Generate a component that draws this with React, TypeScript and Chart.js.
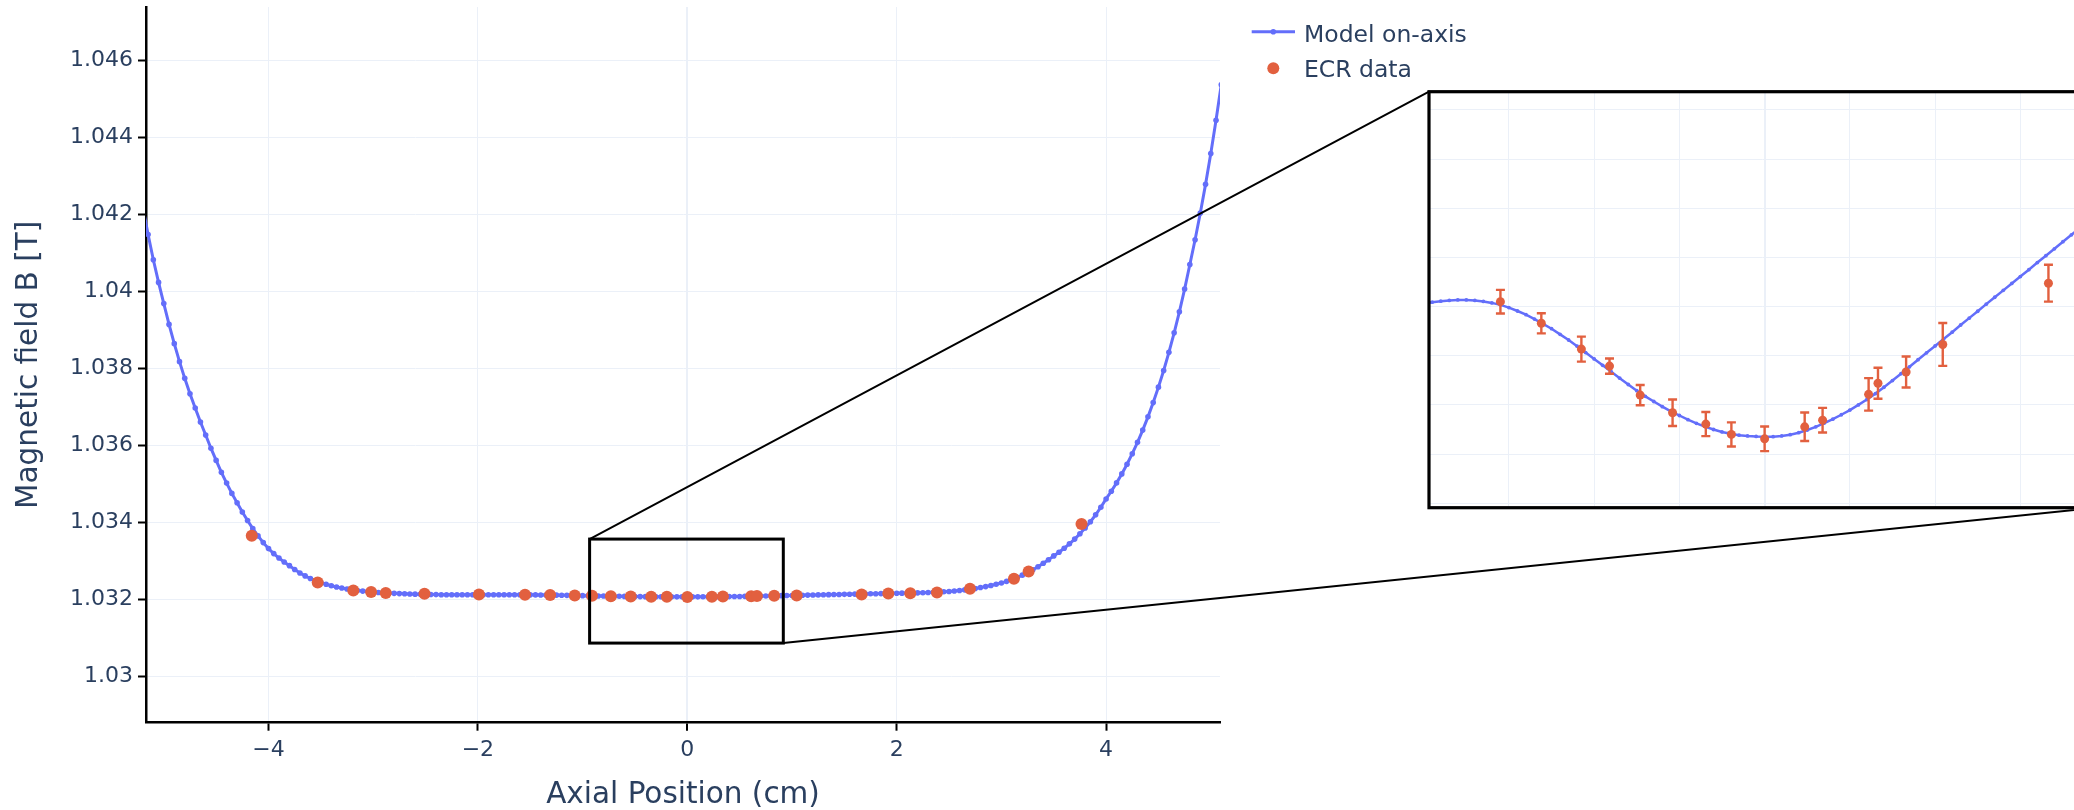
import React, { useEffect, useRef } from 'react';
import { Chart, registerables } from 'chart.js';

Chart.register(...registerables);

// ---------------- data ----------------
const modelX = [
  -5.2, -5.15, -5.1, -5.05, -5, -4.95, -4.9, -4.85, -4.8, -4.75,
  -4.7, -4.65, -4.6, -4.55, -4.5, -4.45, -4.4, -4.35, -4.3, -4.25,
  -4.2, -4.15, -4.1, -4.05, -4, -3.95, -3.9, -3.85, -3.8, -3.75,
  -3.7, -3.65, -3.6, -3.55, -3.5, -3.45, -3.4, -3.35, -3.3, -3.25,
  -3.2, -3.15, -3.1, -3.05, -3, -2.95, -2.9, -2.85, -2.8, -2.75,
  -2.7, -2.65, -2.6, -2.55, -2.5, -2.45, -2.4, -2.35, -2.3, -2.25,
  -2.2, -2.15, -2.1, -2.05, -2, -1.95, -1.9, -1.85, -1.8, -1.75,
  -1.7, -1.65, -1.6, -1.55, -1.5, -1.45, -1.4, -1.35, -1.3, -1.25,
  -1.2, -1.15, -1.1, -1.05, -1, -0.95, -0.9, -0.85, -0.8, -0.75,
  -0.7, -0.65, -0.6, -0.55, -0.5, -0.45, -0.4, -0.35, -0.3, -0.25,
  -0.2, -0.15, -0.1, -0.05, 0, 0.05, 0.1, 0.15, 0.2, 0.25,
  0.3, 0.35, 0.4, 0.45, 0.5, 0.55, 0.6, 0.65, 0.7, 0.75,
  0.8, 0.85, 0.9, 0.95, 1, 1.05, 1.1, 1.15, 1.2, 1.25,
  1.3, 1.35, 1.4, 1.45, 1.5, 1.55, 1.6, 1.65, 1.7, 1.75,
  1.8, 1.85, 1.9, 1.95, 2, 2.05, 2.1, 2.15, 2.2, 2.25,
  2.3, 2.35, 2.4, 2.45, 2.5, 2.55, 2.6, 2.65, 2.7, 2.75,
  2.8, 2.85, 2.9, 2.95, 3, 3.05, 3.1, 3.15, 3.2, 3.25,
  3.3, 3.35, 3.4, 3.45, 3.5, 3.55, 3.6, 3.65, 3.7, 3.75,
  3.8, 3.85, 3.9, 3.95, 4, 4.05, 4.1, 4.15, 4.2, 4.25,
  4.3, 4.35, 4.4, 4.45, 4.5, 4.55, 4.6, 4.65, 4.7, 4.75,
  4.8, 4.85, 4.9, 4.95, 5, 5.05, 5.1, 5.15, 5.2,
];

const modelB = [
  1.04218, 1.041475, 1.04082, 1.04023, 1.03968, 1.03914, 1.03864, 1.038173, 1.03774, 1.037341,
  1.03697, 1.036606, 1.03627, 1.035926, 1.03561, 1.035301, 1.03502, 1.034753, 1.03451, 1.034268,
  1.03405, 1.033838, 1.03365, 1.033475, 1.03332, 1.03319, 1.033074, 1.03297, 1.032877, 1.032776,
  1.032688, 1.032611, 1.032544, 1.032486, 1.032436, 1.032393, 1.032356, 1.032324, 1.032296, 1.032272,
  1.032252, 1.032233, 1.032217, 1.032203, 1.032191, 1.032181, 1.032173, 1.032165, 1.032158, 1.032152,
  1.032146, 1.032141, 1.032137, 1.032133, 1.03213, 1.032127, 1.032125, 1.032123, 1.032122, 1.032121,
  1.03212, 1.03212, 1.03212, 1.0321205, 1.0321213, 1.0321218, 1.0321222, 1.0321225, 1.0321227, 1.0321227,
  1.0321225, 1.0321221, 1.0321215, 1.0321207, 1.0321196, 1.0321182, 1.0321167, 1.0321149, 1.032113, 1.032111,
  1.0321087, 1.0321064, 1.0321039, 1.0321013, 1.0320987, 1.0320961, 1.0320935, 1.0320909, 1.0320883, 1.0320858,
  1.0320835, 1.0320814, 1.0320793, 1.0320774, 1.0320757, 1.032074, 1.0320725, 1.0320712, 1.03207, 1.032069,
  1.0320683, 1.0320677, 1.0320674, 1.0320672, 1.0320671, 1.0320671, 1.0320674, 1.0320679, 1.0320687, 1.0320698,
  1.0320711, 1.0320726, 1.0320742, 1.032076, 1.0320779, 1.03208, 1.0320822, 1.0320846, 1.0320872, 1.0320899,
  1.0320927, 1.0320955, 1.0320984, 1.0321012, 1.032104, 1.0321068, 1.0321096, 1.0321125, 1.0321153, 1.0321181,
  1.032121, 1.0321238, 1.0321266, 1.0321294, 1.0321322, 1.032135, 1.0321379, 1.0321407, 1.0321435, 1.0321464,
  1.0321492, 1.032152, 1.0321548, 1.0321576, 1.0321602, 1.0321628, 1.0321655, 1.0321684, 1.0321715, 1.0321752,
  1.0321795, 1.0321845, 1.0321905, 1.0321978, 1.0322068, 1.0322178, 1.032231, 1.032247, 1.032266, 1.0322856,
  1.032308, 1.0323328, 1.032361, 1.0323924, 1.032428, 1.0324692, 1.032516, 1.0325693, 1.03263, 1.0326957,
  1.03277, 1.03285, 1.03294, 1.03303, 1.03313, 1.0332254, 1.03333, 1.0334432, 1.033567, 1.033704,
  1.033854, 1.0340177, 1.034197, 1.0343937, 1.034609, 1.0348094, 1.035026, 1.035259, 1.035511, 1.0357835,
  1.036078, 1.0363962, 1.03674, 1.0371106, 1.037511, 1.0379451, 1.038414, 1.0389202, 1.039467, 1.0400576,
  1.040696, 1.0413388, 1.04203, 1.0427754, 1.043577, 1.0444381, 1.045364, 1.0463596, 1.04743,
];

const ecrX = [
  -4.16, -3.53, -3.19, -3.02, -2.88, -2.51, -1.99,
  -1.55, -1.31, -1.075, -0.91, -0.73, -0.54, -0.345, -0.195, 0.0, 0.235, 0.34, 0.61, 0.665, 0.83, 1.045, 1.665,
  1.92, 2.13, 2.385, 2.7, 3.12, 3.26, 3.765,
];
const ecrB = [
  1.033652, 1.03244, 1.032232, 1.03219, 1.032165, 1.032145, 1.03213,
  1.032122, 1.0321132, 1.0321027, 1.0320958, 1.032084, 1.0320768, 1.0320722, 1.032068, 1.0320662,
  1.0320711, 1.0320738, 1.0320843, 1.0320888, 1.0320934, 1.0321046, 1.0321295,
  1.032152, 1.03216, 1.03218, 1.032277, 1.032536, 1.032726, 1.03396,
];
const ecrErr = [
  5e-6, 5e-6, 5e-6, 5e-6, 5e-6, 5e-6, 5e-6,
  4.8e-6, 4.1e-6, 5.1e-6, 3.1e-6, 4.1e-6, 5.4e-6, 4.9e-6, 4.9e-6, 5.0e-6,
  5.8e-6, 5.0e-6, 6.6e-6, 6.3e-6, 6.3e-6, 8.7e-6, 7.5e-6,
  7e-6, 7e-6, 7e-6, 7e-6, 7e-6, 7e-6, 7e-6,
];

const seriesNames = ['Model on-axis', 'ECR data'];
const xAxisTitle = 'Axial Position (cm)';
const yAxisTitle = 'Magnetic field B [T]';

const xTicksMain = [-4, -2, 0, 2, 4];
const yTicksMain = [1.03, 1.032, 1.034, 1.036, 1.038, 1.04, 1.042, 1.044, 1.046];
const xRangeMain = [-5.17, 5.088];
const yRangeMain = [1.0288, 1.04738];

const xTicksInset = [-1.5, -1, -0.5, 0, 0.5, 1, 1.5];
const yTicksInset = [1.03204, 1.03206, 1.03208, 1.0321, 1.03212, 1.03214, 1.03216, 1.03218, 1.0322];
const xRangeInset = [-1.969, 1.944];
const yRangeInset = [1.0320382, 1.0322074];

const zoomBoxX = [-0.933, 0.917];
const zoomBoxY = [1.030867, 1.033567];

// ---------------- styles ----------------
const FONT = "'DejaVu Sans', Verdana, sans-serif";
const TEXT = '#2a3f5f';
const GRID = '#EBF0F8';
const BLUE = '#636efa';
const RED = '#E2603F';

const W = 2074;
const H = 810;
const PLOT = { left: 146, top: 7, right: 1220, bottom: 722.7 };
const INSET = { left: 1429, top: 91.7, right: 2096, bottom: 507.7 };
const IC = { left: 1400, top: 70, width: 720, height: 460 };

const pts = (xs: number[], ys: number[]) => xs.map((x, i) => ({ x, y: ys[i] }));
const fmtX = (v: number) => (v < 0 ? '\u2212' + Math.abs(v) : String(v));
const fmtY = (v: number) => String(parseFloat(Number(v).toFixed(3)));
const noPad = (s: any) => {
  s.paddingTop = 0;
  s.paddingBottom = 0;
  s.paddingLeft = 0;
  s.paddingRight = 0;
};

const mainOverlay = {
  id: 'mainOverlay',
  afterDraw(chart: any) {
    const ctx = chart.ctx;
    const xs = chart.scales.x;
    const ys = chart.scales.y;
    const ca = chart.chartArea;
    ctx.save();
    const rx0 = xs.getPixelForValue(zoomBoxX[0]);
    const rx1 = xs.getPixelForValue(zoomBoxX[1]);
    const ry0 = ys.getPixelForValue(zoomBoxY[1]);
    const ry1 = ys.getPixelForValue(zoomBoxY[0]);
    ctx.strokeStyle = '#000';
    ctx.lineWidth = 3;
    ctx.strokeRect(rx0, ry0, rx1 - rx0, ry1 - ry0);
    ctx.lineWidth = 2;
    ctx.beginPath();
    ctx.moveTo(rx0, ry0);
    ctx.lineTo(INSET.left, INSET.top);
    ctx.moveTo(rx1, ry1);
    ctx.lineTo(INSET.right, INSET.bottom);
    ctx.stroke();

    ctx.fillStyle = TEXT;
    ctx.font = `29.5px ${FONT}`;
    ctx.textAlign = 'center';
    ctx.textBaseline = 'alphabetic';
    ctx.fillText(xAxisTitle, (ca.left + ca.right) / 2, 803.3);
    ctx.save();
    ctx.translate(36.7, (ca.top + ca.bottom) / 2);
    ctx.rotate(-Math.PI / 2);
    ctx.fillText(yAxisTitle, 0, 0);
    ctx.restore();

    ctx.textAlign = 'left';
    ctx.font = `23.5px ${FONT}`;
    ctx.strokeStyle = BLUE;
    ctx.lineWidth = 3;
    ctx.beginPath();
    ctx.moveTo(1251.7, 31.7);
    ctx.lineTo(1295, 31.7);
    ctx.stroke();
    ctx.fillStyle = BLUE;
    ctx.beginPath();
    ctx.arc(1273.3, 31.7, 2.8, 0, Math.PI * 2);
    ctx.fill();
    ctx.fillStyle = RED;
    ctx.beginPath();
    ctx.arc(1273.3, 68.3, 6, 0, Math.PI * 2);
    ctx.fill();
    ctx.fillStyle = TEXT;
    ctx.fillText(seriesNames[0], 1304, 41.7);
    ctx.fillText(seriesNames[1], 1304, 76.7);
    ctx.restore();
  },
};

const insetPlugin = {
  id: 'insetPlugin',
  beforeDraw(chart: any) {
    const ctx = chart.ctx;
    const ca = chart.chartArea;
    ctx.save();
    ctx.fillStyle = '#fff';
    ctx.fillRect(ca.left, ca.top, ca.right - ca.left, ca.bottom - ca.top);
    ctx.restore();
  },
  afterDatasetsDraw(chart: any) {
    const ctx = chart.ctx;
    const ca = chart.chartArea;
    const xs = chart.scales.x;
    const ys = chart.scales.y;
    ctx.save();
    ctx.beginPath();
    ctx.rect(ca.left, ca.top, ca.right - ca.left, ca.bottom - ca.top);
    ctx.clip();
    ctx.strokeStyle = RED;
    ctx.lineWidth = 2.4;
    ecrX.forEach((x, i) => {
      const px = xs.getPixelForValue(x);
      const yt = ys.getPixelForValue(ecrB[i] + ecrErr[i]);
      const yb = ys.getPixelForValue(ecrB[i] - ecrErr[i]);
      ctx.beginPath();
      ctx.moveTo(px, yt);
      ctx.lineTo(px, yb);
      ctx.moveTo(px - 4.5, yt);
      ctx.lineTo(px + 4.5, yt);
      ctx.moveTo(px - 4.5, yb);
      ctx.lineTo(px + 4.5, yb);
      ctx.stroke();
    });
    ctx.restore();
  },
  afterDraw(chart: any) {
    const ctx = chart.ctx;
    const ca = chart.chartArea;
    ctx.save();
    ctx.strokeStyle = '#000';
    ctx.lineWidth = 3.2;
    ctx.strokeRect(ca.left, ca.top, ca.right - ca.left, ca.bottom - ca.top);
    ctx.restore();
  },
};

export default function App() {
  const mainRef = useRef<HTMLCanvasElement | null>(null);
  const insetRef = useRef<HTMLCanvasElement | null>(null);

  useEffect(() => {
    if (!mainRef.current || !insetRef.current) return;

    const mainChart = new Chart(mainRef.current, {
      type: 'scatter',
      data: {
        datasets: [
          {
            label: seriesNames[1],
            data: pts(ecrX, ecrB),
            showLine: false,
            pointRadius: 6,
            pointBackgroundColor: RED,
            pointBorderWidth: 0,
            order: 0,
            clip: 0,
          },
          {
            label: seriesNames[0],
            data: pts(modelX, modelB),
            showLine: true,
            borderColor: BLUE,
            borderWidth: 3,
            pointRadius: 2.8,
            pointBackgroundColor: BLUE,
            pointBorderWidth: 0,
            order: 1,
            clip: 0,
          },
        ],
      } as any,
      options: {
        animation: false,
        responsive: false,
        maintainAspectRatio: false,
        devicePixelRatio: 1,
        events: [],
        layout: { padding: { left: 0, top: PLOT.top, right: W - PLOT.right, bottom: 0 } },
        plugins: { legend: { display: false }, tooltip: { enabled: false }, title: { display: false } },
        scales: {
          x: {
            type: 'linear',
            min: xRangeMain[0],
            max: xRangeMain[1],
            afterBuildTicks: (s: any) => {
              s.ticks = xTicksMain.map((v) => ({ value: v }));
            },
            afterFit: (s: any) => {
              s.height = H - PLOT.bottom;
              noPad(s);
            },
            grid: {
              color: GRID,
              lineWidth: (c: any) => (c.tick && c.tick.value === 0 ? 2 : 1),
              drawTicks: true,
              tickLength: 8,
              tickColor: '#000',
              tickWidth: 2,
            },
            border: { display: true, color: '#000', width: 2.5 },
            ticks: {
              font: { family: FONT, size: 22 },
              color: TEXT,
              padding: 6,
              maxRotation: 0,
              autoSkip: false,
              callback: (v: any) => fmtX(Number(v)),
            },
          },
          y: {
            type: 'linear',
            min: yRangeMain[0],
            max: yRangeMain[1],
            afterBuildTicks: (s: any) => {
              s.ticks = yTicksMain.map((v) => ({ value: v }));
            },
            afterFit: (s: any) => {
              s.width = PLOT.left;
              noPad(s);
            },
            grid: {
              color: GRID,
              lineWidth: 1,
              drawTicks: true,
              tickLength: 8,
              tickColor: '#000',
              tickWidth: 2,
            },
            border: { display: true, color: '#000', width: 2.5 },
            ticks: {
              font: { family: FONT, size: 22 },
              color: TEXT,
              padding: 5,
              autoSkip: false,
              callback: (v: any) => fmtY(Number(v)),
            },
          },
        },
      } as any,
      plugins: [mainOverlay],
    });

    const insetChart = new Chart(insetRef.current, {
      type: 'scatter',
      data: {
        datasets: [
          {
            label: seriesNames[1],
            data: pts(ecrX, ecrB),
            showLine: false,
            pointRadius: 4.5,
            pointBackgroundColor: RED,
            pointBorderWidth: 0,
            order: 0,
            clip: 0,
          },
          {
            label: seriesNames[0],
            data: pts(modelX, modelB),
            showLine: true,
            borderColor: BLUE,
            borderWidth: 2.5,
            pointRadius: 1.9,
            pointBackgroundColor: BLUE,
            pointBorderWidth: 0,
            order: 1,
            clip: 0,
          },
        ],
      } as any,
      options: {
        animation: false,
        responsive: false,
        maintainAspectRatio: false,
        devicePixelRatio: 1,
        events: [],
        layout: {
          padding: {
            left: INSET.left - IC.left,
            top: INSET.top - IC.top,
            right: IC.left + IC.width - INSET.right,
            bottom: IC.top + IC.height - INSET.bottom,
          },
        },
        plugins: { legend: { display: false }, tooltip: { enabled: false }, title: { display: false } },
        scales: {
          x: {
            type: 'linear',
            min: xRangeInset[0],
            max: xRangeInset[1],
            afterBuildTicks: (s: any) => {
              s.ticks = xTicksInset.map((v) => ({ value: v }));
            },
            afterFit: (s: any) => {
              s.height = 0;
              noPad(s);
            },
            grid: {
              color: GRID,
              lineWidth: (c: any) => (c.tick && c.tick.value === 0 ? 2 : 1),
              drawTicks: false,
            },
            border: { display: false },
            ticks: { display: false },
          },
          y: {
            type: 'linear',
            min: yRangeInset[0],
            max: yRangeInset[1],
            afterBuildTicks: (s: any) => {
              s.ticks = yTicksInset.map((v) => ({ value: v }));
            },
            afterFit: (s: any) => {
              s.width = 0;
              noPad(s);
            },
            grid: { color: GRID, lineWidth: 1, drawTicks: false },
            border: { display: false },
            ticks: { display: false },
          },
        },
      } as any,
      plugins: [insetPlugin],
    });

    return () => {
      mainChart.destroy();
      insetChart.destroy();
    };
  }, []);

  return (
    <div
      style={{
        position: 'fixed',
        left: 0,
        top: 0,
        width: W,
        height: H,
        overflow: 'hidden',
        background: '#fff',
      }}
    >
      <canvas
        ref={mainRef}
        width={W}
        height={H}
        style={{ position: 'absolute', left: 0, top: 0, width: W, height: H }}
      />
      <canvas
        ref={insetRef}
        width={IC.width}
        height={IC.height}
        style={{ position: 'absolute', left: IC.left, top: IC.top, width: IC.width, height: IC.height }}
      />
    </div>
  );
}
